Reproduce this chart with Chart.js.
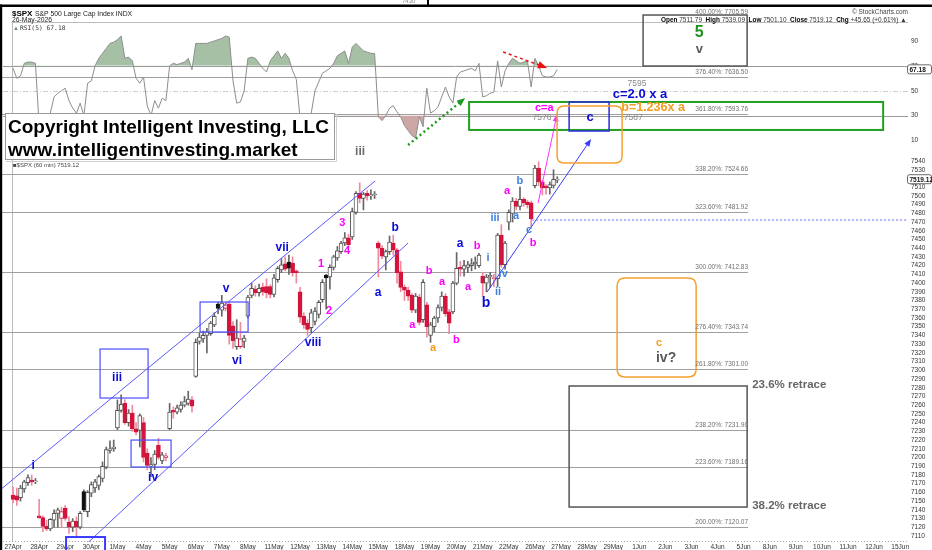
<!DOCTYPE html>
<html><head><meta charset="utf-8">
<script src="https://cdn.jsdelivr.net/npm/chart.js@4/dist/chart.umd.min.js"></script>
<style>html,body{margin:0;padding:0;background:#fff}canvas{display:block}</style>
</head><body>
<canvas id="c" width="932" height="550"></canvas>
<script>
// ---------- data ----------
const dayLabels = ['27Apr','28Apr','29Apr','30Apr','1May','4May','5May','6May','7May','8May','11May','12May','13May','14May','15May','18May','19May','20May','21May','22May','26May','27May','28May','29May','1Jun','2Jun','3Jun','4Jun','5Jun','8Jun','9Jun','10Jun','11Jun','12Jun','15Jun'];
const barsPerDay = 7;
const priceTicks = [7540,7530,7520,7510,7500,7490,7480,7470,7460,7450,7440,7430,7420,7410,7400,7390,7380,7370,7360,7350,7340,7330,7320,7310,7300,7290,7280,7270,7260,7250,7240,7230,7220,7210,7200,7190,7180,7170,7160,7150,7140,7130,7120,7110];
const rsiTicks = [90,70,50,30,10];
const OPEN = [
7157,7156,7154,7164,7171,7174,7172, 7133,7131,7121,7118,7128,7136,7130, 7142,7126,7120,7127,7120,7161,7138,
7159,7165,7168,7176,7189,7208,7210, 7234,7254,7262,7240,7251,7233,7231, 7240,7205,7190,7192,7214,7196,7200,
7233,7254,7252,7255,7260,7262,7266, 7293,7333,7336,7340,7342,7352,7376, 7369,7371,7376,7351,7327,7327,7333,
7362,7386,7393,7389,7395,7396,7396, 7387,7404,7415,7422,7424,7423,7414, 7390,7362,7354,7349,7356,7364,7381,
7409,7407,7418,7429,7436,7446,7452, 7453,7481,7503,7497,7503,7500,7501, 7446,7440,7430,7436,7446,7438,7413,
7395,7392,7386,7369,7384,7358,7375, 7340,7350,7360,7372,7385,7367,7367, 7400,7418,7416,7418,7420,7422,7420,
7408,7400,7407,7405,7405,7455,7421, 7470,7480,7494,7488,7496,7493,7492, 7511.79,7532,7516,7511,7509,7512,7518];
const HIGH = [
7166,7165,7168,7174,7180,7180,7176, 7152,7133,7128,7130,7140,7142,7143, 7145,7132,7130,7132,7138,7163,7162,
7172,7175,7180,7195,7212,7219,7220, 7266,7272,7266,7255,7260,7240,7250, 7246,7210,7200,7208,7222,7206,7205,
7262,7258,7260,7264,7270,7276,7270, 7336,7343,7345,7348,7356,7366,7378, 7386,7378,7378,7356,7358,7355,7340,
7386,7400,7397,7399,7400,7405,7398, 7410,7419,7428,7430,7432,7430,7415, 7395,7366,7358,7370,7372,7380,7404,
7410,7421,7432,7442,7448,7458,7456, 7486,7505,7515,7504,7506,7507,7505, 7448,7443,7438,7454,7455,7440,7425,
7398,7395,7388,7388,7387,7404,7378, 7355,7362,7375,7390,7388,7370,7402, 7435,7425,7426,7425,7428,7430,7434,
7412,7410,7412,7410,7457,7467,7448, 7484,7498,7497,7510,7498,7495,7494, 7535,7539.09,7518,7513,7516,7530,7522];
const LOW = [
7148,7145,7150,7160,7168,7168,7170, 7130,7115,7116,7116,7120,7120,7120, 7128,7113,7115,7109,7118,7138,7132,
7155,7160,7163,7172,7187,7205,7207, 7232,7252,7238,7236,7230,7226,7212, 7195,7186,7178,7186,7198,7193,7196,
7232,7245,7250,7252,7258,7260,7252, 7292,7330,7332,7320,7340,7350,7365, 7362,7368,7330,7325,7324,7325,7326,
7360,7383,7385,7385,7386,7383,7383, 7384,7401,7412,7414,7410,7408,7400, 7355,7348,7340,7343,7352,7360,7378,
7370,7393,7415,7426,7434,7443,7442, 7450,7479,7492,7484,7495,7496,7497, 7407,7428,7415,7433,7432,7400,7390,
7380,7380,7366,7366,7352,7355,7338, 7332,7344,7355,7368,7362,7342,7365, 7398,7408,7408,7412,7414,7416,7418,
7385,7390,7395,7396,7396,7418,7416, 7461,7470,7484,7484,7488,7486,7465, 7509,7512,7501.10,7502,7502,7509,7515];
const CLOSE = [
7152,7151,7165,7172,7177,7172,7173, 7131,7121,7118,7129,7136,7140,7138, 7130,7120,7127,7120,7136,7140,7160,
7169,7172,7178,7190,7209,7210,7212, 7254,7261,7240,7251,7233,7229,7248, 7200,7191,7192,7204,7200,7203,7202,
7252,7252,7257,7260,7264,7267,7259, 7332,7338,7340,7344,7354,7362,7371, 7377,7375,7340,7334,7337,7336,7337,
7384,7394,7389,7394,7390,7389,7387, 7406,7417,7421,7416,7417,7412,7412, 7361,7352,7347,7366,7368,7378,7401,
7406,7418,7430,7437,7446,7452,7444, 7482,7503,7497,7502,7500,7501,7502, 7440,7431,7436,7447,7438,7412,7395,
7392,7385,7369,7385,7355,7401,7350, 7352,7360,7372,7385,7365,7354,7400, 7417,7416,7420,7421,7422,7424,7432,
7400,7407,7409,7406,7455,7421,7446, 7481,7494,7488,7496,7492,7490,7473.47, 7532,7516,7509,7509,7513,7519,7519.12];
const RSI5 = [
68,60,62,72,73,73,72, 22,15,14,32,45,48,50, 52,42,36,32,40,30,56,
58,70,76,80,84,88,89, 91,94,76,77,74,60,56, 61,38,30,42,36,44,42,
70,72,71,72,73,76,67, 88,88,88,88,89,90,91, 92,94,93,58,40,41,50,
76,77,76,72,68,65,74, 78,82,76,80,76,66,59, 28,20,17,32,50,57,64,
66,68,72,78,80,82,72, 85,88,85,82,81,80,80, 29,26,30,36,38,33,29,
22,18,14,12,29,21,52, 32,34,37,45,53,45,40, 61,65,66,67,68,66,72,
45,46,48,49,74,53,66, 72,76,74,72,73,74,53, 76,70,62,61,61,62,67.18];
const fibPct = ['400.00%','376.40%','361.80%','338.20%','323.60%','300.00%','276.40%','261.80%','238.20%','223.60%','200.00%'];
const fibLevels = [7705.59,7636.50,7593.76,7524.66,7481.92,7412.83,7343.74,7301.00,7231.90,7189.16,7120.07];

// ---------- annotation layout (in bar-index / price units) ----------
const FONT = '"Liberation Sans", Arial, Helvetica, sans-serif';
const COL = {blue:'#0a0ad8', mag:'#ff00ff', orange:'#f39c1e', light:'#3f7fdc', gray:'#6a6a6a', dgray:'#5a5a5a', green:'#1f8f1f'};
const waveLabels = [
 ['i',5.37,7190.2,'blue',12],['iii',27.9,7291.1,'blue',12],['iv',37.56,7176.5,'blue',12],['v',57.15,7393.2,'blue',12],
 ['vi',60.1,7310.6,'blue',12],['vii',72.2,7440.2,'blue',12],['viii',80.5,7331.3,'blue',12],
 ['1',82.6,7421.9,'mag',11],['2',84.8,7368.0,'mag',11],['3',88.3,7468.9,'mag',11],['4',89.6,7436.8,'mag',11],
 ['a',97.9,7388.6,'blue',12],['b',102.5,7463.2,'blue',12],['a',107.1,7351.9,'mag',11],['b',111.6,7413.9,'mag',11],
 ['a',115.1,7401.2,'mag',11],['a',112.7,7325.5,'orange',11],['b',118.9,7334.7,'mag',11],['a',119.9,7444.8,'blue',12],
 ['a',122.1,7395.5,'mag',11],['b',124.5,7442.5,'mag',11],['b',126.9,7377.2,'blue',14],
 ['i',127.4,7428.8,'light',11],['ii',130.1,7389.8,'light',11],['iv',131.5,7410.4,'light',11],['iii',129.3,7474.6,'light',11],
 ['a',134.96,7476.9,'light',11],['a',132.5,7505.6,'mag',11],['b',136.0,7517.1,'light',11],['c',138.45,7460.9,'light',11],
 ['b',139.5,7446.0,'mag',11],['iii',93.1,7550.3,'gray',12],
 ['c',154.8,7590.5,'blue',13],['c=2.0 x a',168.2,7616.8,'blue',13],['c=a',142.5,7600.8,'mag',11],
 ['b=1.236x a',171.7,7600.8,'orange',12.5],['5',184.1,7686.8,'green',16],['v',184.1,7668.4,'dgray',13],
 ['c',173.3,7331.3,'orange',11],['iv?',175.2,7314.1,'dgray',14]
];
const plainLabels = [['7576',141.9,7589.3],['7587',166.4,7589.3],['7595',167.4,7628.3]];
const retraceLabels = [['23.6% retrace',198.3,7283.1],['38.2% retrace',198.3,7144.4]];
const boxes = [
 [23.34,36.22,7324.4,7268.2,'#4d4dff',1.2,0],[31.66,42.39,7220.0,7189.1,'#4d4dff',1.2,0],
 [50.17,63.05,7378.3,7343.9,'#4d4dff',1.2,0],[14.22,24.68,7108.8,7080,'#3a3aff',2,0],
 [122.35,233.43,7607.7,7575.6,'#22a022',2,0],[149.18,159.91,7607.7,7574.4,'#2b2bd9',1.5,0],
 [145.96,163.4,7603.1,7537.7,'#f5a030',1.5,7],[162.06,183.26,7405.8,7292.3,'#f5a030',1.5,8],
 [149.18,196.94,7282.0,7143.2,'#555',1.5,0],[169.03,196.94,7707.4,7648.9,'#555',1.5,0]
];
const fibEnd = 197.2;
const lines = [
 {a:[-3.49,7162.7],b:[97.13,7517.1],c:'#5b5bff',w:1},
 {a:[17.98,7093.9],b:[105.98,7446.0],c:'#5b5bff',w:1},
 {a:[127.18,7389.8],b:[155.08,7565.2],c:'#3a3aff',w:1,arrow:8},
 {a:[140.86,7491.8],b:[145.96,7593.9],c:'#ff33ff',w:1,arrow:8},
 {a:[105.98,7558.3],b:[121.28,7612.2],c:'#1e9a1e',w:2.5,dash:[2,3],arrow:9},
 {a:[131.47,7665.0],b:[143.28,7646.7],c:'#ee1111',w:1.5,dash:[3,3],arrow:10},
 {a:[139.25,7472.3],b:[240.1,7472.3],c:'#6b6bff',w:1,dash:[2,2]}
];

// ---------- candle styling derived from data ----------
const idx = OPEN.map((_, i) => i);
const RED = '#d4143c';
const bodyFill = idx.map(i => {
  const prev = i ? CLOSE[i-1] : OPEN[i];
  if (CLOSE[i] >= OPEN[i]) return '#ffffff';
  return CLOSE[i] > prev ? '#111111' : RED;
});
const bodyBorder = idx.map(i => {
  const prev = i ? CLOSE[i-1] : OPEN[i];
  if (CLOSE[i] >= OPEN[i]) return CLOSE[i] < prev ? RED : '#555555';
  return CLOSE[i] > prev ? '#111111' : RED;
});
const wickCol = idx.map(i => bodyBorder[i] === RED ? '#ef8a9c' : '#666666');

function arrowHead(ctx, x1, y1, x2, y2, color, size) {
  const a = Math.atan2(y2 - y1, x2 - x1);
  ctx.setLineDash([]);
  ctx.beginPath(); ctx.moveTo(x2, y2);
  ctx.lineTo(x2 - size*Math.cos(a-0.38), y2 - size*Math.sin(a-0.38));
  ctx.lineTo(x2 - size*Math.cos(a+0.38), y2 - size*Math.sin(a+0.38));
  ctx.closePath(); ctx.fillStyle = color; ctx.fill();
}
function rrect(ctx, x, y, w, h, r) {
  ctx.beginPath();
  ctx.moveTo(x+r, y); ctx.lineTo(x+w-r, y); ctx.quadraticCurveTo(x+w, y, x+w, y+r);
  ctx.lineTo(x+w, y+h-r); ctx.quadraticCurveTo(x+w, y+h, x+w-r, y+h);
  ctx.lineTo(x+r, y+h); ctx.quadraticCurveTo(x, y+h, x, y+h-r);
  ctx.lineTo(x, y+r); ctx.quadraticCurveTo(x, y, x+r, y); ctx.closePath();
}

const deco = {
  id: 'deco',
  beforeDraw(chart) {
    const ctx = chart.ctx; ctx.save(); ctx.fillStyle = '#fff'; ctx.fillRect(0, 0, chart.width, chart.height); ctx.restore();
  },
  beforeDatasetsDraw(chart) {
    const {ctx, chartArea: ca, scales: {x, y, yRsi}} = chart;
    ctx.save();
    const x0 = x.getPixelForValue(-0.35);
    ctx.strokeStyle = '#bbb'; ctx.lineWidth = 1;
    ctx.beginPath(); ctx.moveTo(x0, ca.top + 0.5); ctx.lineTo(ca.right, ca.top + 0.5); ctx.stroke();
    ctx.beginPath(); ctx.moveTo(Math.round(x0)+0.5, ca.top); ctx.lineTo(Math.round(x0)+0.5, ca.bottom); ctx.stroke();
    ctx.setLineDash([1,2]); ctx.strokeStyle = '#aaa';
    ctx.beginPath(); ctx.moveTo(ca.left, ca.bottom - 0.5); ctx.lineTo(ca.right, ca.bottom - 0.5); ctx.stroke();
    ctx.setLineDash([]);
    // RSI reference levels
    ctx.strokeStyle = '#9a9a9a';
    [70, 30].forEach(v => { const yy = Math.round(yRsi.getPixelForValue(v)) + 0.5;
      ctx.beginPath(); ctx.moveTo(ca.left, yy); ctx.lineTo(ca.right, yy); ctx.stroke(); });
    ctx.strokeStyle = '#cfcfcf'; ctx.setLineDash([5,2,1,2]);
    const y50 = Math.round(yRsi.getPixelForValue(50)) + 0.5;
    ctx.beginPath(); ctx.moveTo(ca.left, y50); ctx.lineTo(ca.right, y50); ctx.stroke();
    ctx.setLineDash([]);
    // Fibonacci levels
    ctx.strokeStyle = '#a0a0a0';
    fibLevels.forEach(v => { const yy = Math.round(y.getPixelForValue(v)) + 0.5;
      if (yy < ca.top) return;
      ctx.beginPath(); ctx.moveTo(0, yy); ctx.lineTo(x.getPixelForValue(fibEnd), yy); ctx.stroke(); });
    ctx.restore();
  },
  afterDatasetsDraw(chart) {
    const {ctx, chartArea: ca, scales: {x, y, yRsi}} = chart;
    const X = v => x.getPixelForValue(v), Y = v => y.getPixelForValue(v);
    ctx.save();
    ctx.font = '6px ' + FONT; ctx.fillStyle = '#444'; ctx.textBaseline = 'alphabetic'; ctx.textAlign = 'left';
    ctx.fillText('\u25A0$SPX (60 min) ' + CLOSE[CLOSE.length-1].toFixed(2), 13, 167);
    // copyright box
    ctx.fillStyle = '#fff'; ctx.fillRect(5, 113, 330, 47);
    ctx.strokeStyle = '#9a9a9a'; ctx.lineWidth = 1; ctx.strokeRect(5.5, 113.5, 329, 46);
    ctx.strokeStyle = '#cfcfcf'; ctx.beginPath(); ctx.moveTo(6, 161.5); ctx.lineTo(336.5, 161.5); ctx.lineTo(336.5, 114); ctx.stroke();
    ctx.fillStyle = '#000'; ctx.font = 'bold 19px ' + FONT;
    ctx.fillText('Copyright Intelligent Investing, LLC', 8, 133);
    ctx.fillText('www.intelligentinvesting.market', 8, 156);
    // lines & arrows
    ctx.save();
    ctx.beginPath(); ctx.rect(0, 0, ca.right, ca.bottom); ctx.clip();
    lines.forEach(l => {
      const x1 = X(l.a[0]), y1 = Y(l.a[1]), x2 = X(l.b[0]), y2 = Y(l.b[1]);
      ctx.strokeStyle = l.c; ctx.lineWidth = l.w; ctx.setLineDash(l.dash || []);
      let ex = x2, ey = y2;
      if (l.arrow) { const a = Math.atan2(y2-y1, x2-x1); ex = x2 - l.arrow*0.7*Math.cos(a); ey = y2 - l.arrow*0.7*Math.sin(a); }
      ctx.beginPath(); ctx.moveTo(x1, y1); ctx.lineTo(ex, ey); ctx.stroke();
      if (l.arrow) arrowHead(ctx, x1, y1, x2, y2, l.c, l.arrow);
    });
    ctx.restore();
    ctx.setLineDash([]);
    // boxes
    boxes.forEach(b => {
      const x1 = X(b[0]), x2 = X(b[1]), y1 = Y(b[2]), y2 = Y(b[3]);
      ctx.strokeStyle = b[4]; ctx.lineWidth = b[5];
      if (b[6]) { rrect(ctx, x1, y1, x2-x1, y2-y1, b[6]); ctx.stroke(); }
      else ctx.strokeRect(x1, y1, x2-x1, y2-y1);
    });
    // fib labels
    ctx.font = '6.5px ' + FONT; ctx.fillStyle = '#707070'; ctx.textAlign = 'right'; ctx.textBaseline = 'alphabetic';
    fibLevels.forEach((v, k) => { ctx.fillText(fibPct[k] + ': ' + v.toFixed(2), X(fibEnd), Y(v) - 3); });
    // wave labels
    ctx.textAlign = 'center'; ctx.textBaseline = 'middle';
    waveLabels.forEach(t => { ctx.font = 'bold ' + t[4] + 'px ' + FONT; ctx.fillStyle = COL[t[3]]; ctx.fillText(t[0], X(t[1]), Y(t[2])); });
    ctx.font = '8.5px ' + FONT; ctx.fillStyle = '#8a8a8a';
    plainLabels.forEach(t => ctx.fillText(t[0], X(t[1]), Y(t[2])));
    ctx.textAlign = 'left'; ctx.font = 'bold 11.5px ' + FONT; ctx.fillStyle = '#666';
    retraceLabels.forEach(t => ctx.fillText(t[0], X(t[1]), Y(t[2])));
    // right-side RSI labels and value tags
    ctx.font = '6.5px ' + FONT; ctx.fillStyle = '#333';
    rsiTicks.forEach(v => ctx.fillText(String(v), ca.right + 3, yRsi.getPixelForValue(v)));
    const tag = (txt, yy) => {
      ctx.fillStyle = '#fff'; rrect(ctx, ca.right - 0.5, yy - 4.5, 24, 9, 2); ctx.fill();
      ctx.strokeStyle = '#444'; ctx.lineWidth = 0.8; ctx.stroke();
      ctx.fillStyle = '#111'; ctx.font = 'bold 6.5px ' + FONT; ctx.textAlign = 'left'; ctx.textBaseline = 'middle';
      ctx.fillText(txt, ca.right + 1.5, yy + 0.5);
    };
    tag(CLOSE[CLOSE.length-1].toFixed(2), Y(CLOSE[CLOSE.length-1]));
    tag(RSI5[RSI5.length-1].toFixed(2), yRsi.getPixelForValue(RSI5[RSI5.length-1]));
    // header texts
    ctx.textBaseline = 'alphabetic'; ctx.textAlign = 'left';
    ctx.fillStyle = '#000'; ctx.font = 'bold 8px ' + FONT; ctx.fillText('$SPX', 12, 16);
    ctx.font = '6.8px ' + FONT; ctx.fillStyle = '#222'; ctx.fillText('S&P 500 Large Cap Index INDX', 35, 16);
    ctx.fillText('26-May-2026', 12, 22);
    ctx.fillStyle = '#6a8a6a'; ctx.font = '6px ' + FONT; ctx.fillText('\u25B2', 13, 30);
    ctx.fillStyle = '#333'; ctx.font = '6.3px "DejaVu Sans Mono", monospace'; ctx.fillText('RSI(5) ' + RSI5[RSI5.length-1].toFixed(2), 20, 30);
    ctx.font = '6.5px ' + FONT; ctx.fillStyle = '#444'; ctx.textAlign = 'right';
    ctx.fillText('\u00A9 StockCharts.com', 908, 14);
    const d0 = OPEN.length - barsPerDay;
    const dH = Math.max(...HIGH.slice(d0)), dL = Math.min(...LOW.slice(d0));
    const dC = CLOSE[CLOSE.length-1], pC = CLOSE[d0-1], chg = dC - pC;
    const segs = [['Open ',1],[OPEN[d0].toFixed(2)+'  ',0],['High ',1],[dH.toFixed(2)+'  ',0],['Low ',1],[dL.toFixed(2)+'  ',0],
      ['Close ',1],[dC.toFixed(2)+'  ',0],['Chg ',1],['+'+chg.toFixed(2)+' (+'+(chg/pC*100).toFixed(2)+'%) \u25B2',0]];
    let fs = 6.5;
    const wAt = s => segs.reduce((acc, g) => { ctx.font = (g[1]?'bold ':'') + s + 'px ' + FONT; return acc + ctx.measureText(g[0]).width; }, 0);
    fs = fs * 246 / wAt(fs);
    let cx = 661; ctx.textAlign = 'left';
    segs.forEach(g => { ctx.font = (g[1]?'bold ':'') + fs + 'px ' + FONT; ctx.fillStyle = g[1] ? '#000' : '#333'; ctx.fillText(g[0], cx, 22); cx += ctx.measureText(g[0]).width; });
    // frame
    ctx.fillStyle = '#000';
    ctx.fillRect(0, 4.5, chart.width, 2.5);
    ctx.fillRect(0, 4.5, 2.2, chart.height);
    ctx.fillRect(427, 0, 2, 6);
    ctx.font = '6px ' + FONT; ctx.fillStyle = '#888'; ctx.fillText('7430', 402, 3);
    ctx.restore();
  }
};

new Chart(document.getElementById('c'), {
  type: 'bar',
  data: {
    datasets: [
      { type: 'bar', label: 'wick', data: idx.map(i => ({x: i, y: [LOW[i], HIGH[i]]})),
        backgroundColor: wickCol, barThickness: 1, grouped: false, order: 2, minBarLength: 1 },
      { type: 'bar', label: 'body', data: idx.map(i => ({x: i, y: [OPEN[i], CLOSE[i]]})),
        backgroundColor: bodyFill, borderColor: bodyBorder, borderWidth: 1, borderSkipped: false,
        barThickness: 4, grouped: false, order: 1, minBarLength: 1 },
      { type: 'line', label: 'RSI(5)', yAxisID: 'yRsi', data: idx.map(i => ({x: i, y: RSI5[i]})),
        borderColor: '#8e8e8e', borderWidth: 1, pointRadius: 0, tension: 0, order: 5,
        fill: {target: {value: 70}, above: 'rgb(166,192,166)', below: 'rgba(0,0,0,0)'} },
      { type: 'line', label: 'RSI low', yAxisID: 'yRsi', data: idx.map(i => ({x: i, y: RSI5[i]})),
        borderColor: 'rgba(0,0,0,0)', borderWidth: 0, pointRadius: 0, tension: 0, order: 6,
        fill: {target: {value: 30}, above: 'rgba(0,0,0,0)', below: 'rgb(205,166,166)'} }
    ]
  },
  options: {
    responsive: false, animation: false, events: [],
    layout: {padding: {left: 3, top: 22, right: 0, bottom: 0}},
    plugins: {legend: {display: false}, tooltip: {enabled: false}},
    scales: {
      x: { type: 'linear', axis: 'x', min: -2.7, max: 240.1, offset: false, position: 'bottom',
        grid: {display: false, drawTicks: false}, border: {display: false},
        ticks: {autoSkip: false, maxRotation: 0, minRotation: 0, padding: 1, color: '#333',
          font: {size: 6.5, family: FONT}, callback: v => dayLabels[v / barsPerDay] ?? ''},
        afterBuildTicks: s => { s.ticks = dayLabels.map((_, d) => ({value: d * barsPerDay})); },
        afterFit: s => { s.height = 8; } },
      y: { type: 'linear', axis: 'y', position: 'right', min: 7103.1, max: 7699.4,
        grid: {display: false, drawTicks: false}, border: {display: false},
        ticks: {autoSkip: false, padding: 3, color: '#333', font: {size: 6.5, family: FONT}, callback: v => String(v)},
        afterBuildTicks: s => { s.ticks = priceTicks.map(v => ({value: v})); },
        afterFit: s => { s.width = 24; } },
      yRsi: { type: 'linear', axis: 'y', position: 'right', min: -312.5, max: 105.2,
        grid: {display: false, drawTicks: false}, border: {display: false},
        ticks: {display: false}, afterFit: s => { s.width = 0; } }
    }
  },
  plugins: [deco]
});
</script>
</body></html>
